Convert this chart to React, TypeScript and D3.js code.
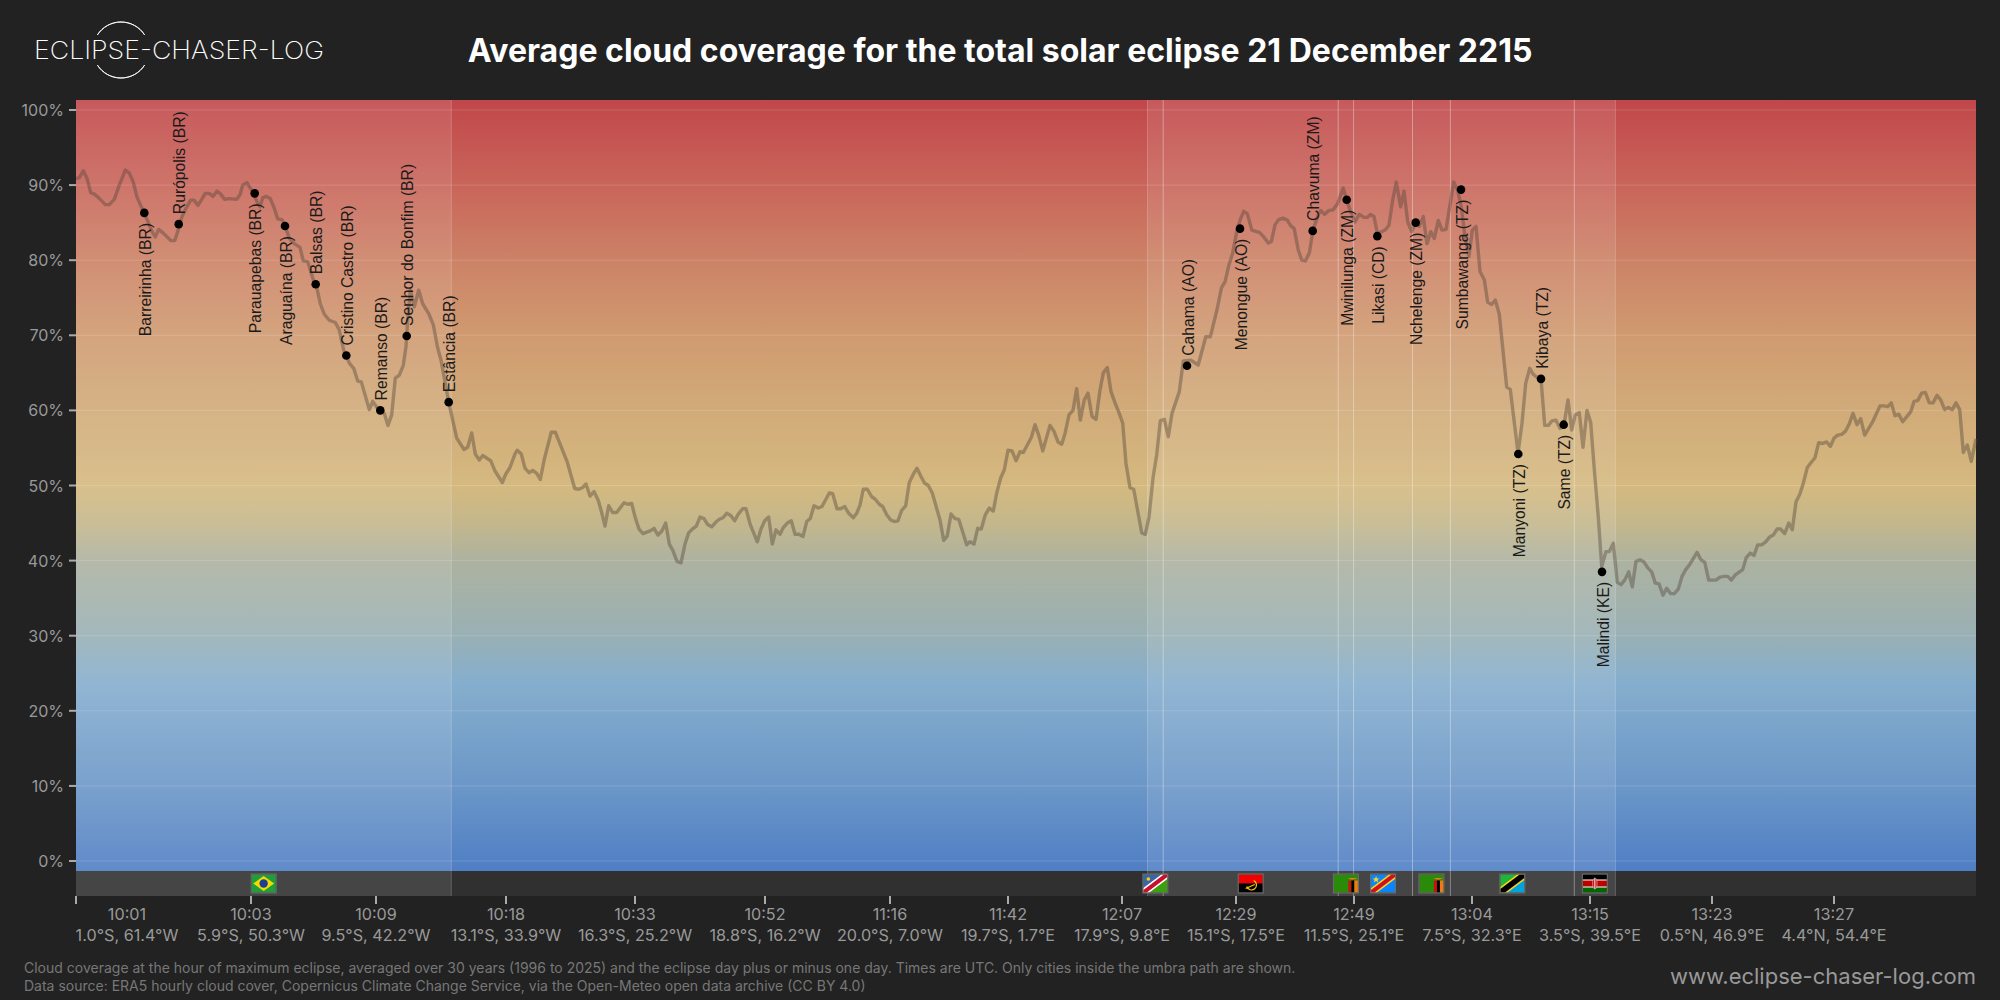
import React from 'react';
import * as d3 from 'd3';

// position along the central line (0 = left edge of the track, 1900 = right edge)
const trackPos = [
  0, 3.3, 7.3, 11, 14.7, 18.3, 22, 29.3, 33.3, 38.3, 43.3, 49.3, 53.3, 57.3, 61, 66, 68.3, 72.7, 76, 79.3,
  82.7, 87.3, 95, 98.7, 101.7, 106, 110, 114.7, 118, 122, 129.3, 133.3, 137, 141, 144.7, 148.7, 152.7, 160.7, 164, 166.7,
  171, 176.7, 181.7, 184, 186.7, 190, 194.3, 198.3, 201.7, 206, 209.3, 213.3, 218.3, 224, 227.3, 231.7, 237.3, 240, 244.3, 248.3,
  253.3, 259.3, 263.3, 267.7, 270.3, 273.3, 277.7, 281.7, 285.3, 293.3, 296.7, 304.3, 308.3, 312, 315.7, 319.3, 323.3, 327.3, 330, 331.7,
  334.3, 338.3, 342.7, 346.7, 352.7, 357.3, 361.7, 365, 372.7, 376.7, 380.7, 388, 391.7, 395.7, 399.3, 403.3, 406.7, 414.7, 418.7, 426.3,
  429.7, 434, 439, 441.3, 445.3, 449, 453, 456.7, 460.7, 464.3, 468.3, 475.3, 479.3, 491.3, 498.7, 502.7, 506.3, 510, 514, 518,
  522.3, 525.7, 529, 532.7, 536.7, 540.7, 548, 551.7, 555.7, 559.3, 563, 567, 570.7, 574.7, 578, 582, 585.7, 589.7, 593.3, 596.7,
  601, 605, 609, 612.7, 616.3, 620.3, 624, 628, 631.7, 635.7, 639.7, 643.3, 647, 650.7, 654.7, 658.7, 662.3, 666.7, 670, 674,
  681.3, 685, 688.7, 692.7, 696.3, 700, 704, 707.3, 711.3, 715.3, 719, 723, 727, 730.7, 734.3, 738, 742.3, 746, 753.3, 756.7,
  761, 764.7, 768.7, 772.7, 777.3, 780.7, 784, 787.3, 791.3, 795.7, 799, 803.3, 806.7, 810.7, 814.7, 818.3, 822, 825.7, 829.7, 833.3,
  837.3, 841, 845, 848.7, 852.3, 856.3, 864, 867.7, 871.3, 875, 879, 882.7, 890.7, 894, 898, 901.7, 905.3, 909.3, 913.3, 917.3,
  920.7, 924.7, 928.3, 932, 936, 940, 944, 947.3, 955.3, 959, 962.7, 966.7, 974, 978, 982, 985.7, 989, 993, 997, 1000.7,
  1004.3, 1008.3, 1012, 1016, 1020, 1024, 1027.3, 1031.3, 1035, 1039, 1042.7, 1046.7, 1050, 1054, 1057.7, 1065.7, 1069.3, 1073, 1077, 1080.7,
  1084.3, 1088.3, 1092.3, 1096, 1103.3, 1107.3, 1114.7, 1122.2, 1129.8, 1134.3, 1141, 1145.4, 1149, 1153, 1156.6, 1161, 1164.2, 1167.8, 1171.3, 1175.8,
  1183.4, 1187.8, 1192.3, 1195.4, 1199, 1202.6, 1207, 1211.5, 1214.6, 1218.2, 1222.2, 1225.8, 1229.4, 1233.4, 1237, 1242.7, 1245, 1248.5, 1252.6, 1257,
  1261.5, 1267.2, 1270.7, 1274, 1279, 1283.3, 1288, 1291.3, 1294.7, 1298, 1301.3, 1305.7, 1309.7, 1313, 1316.7, 1320.3, 1324.7, 1328, 1331.7, 1335.7,
  1339.7, 1343.3, 1347.3, 1351, 1354.7, 1358.3, 1362.3, 1366, 1370, 1373.7, 1377.7, 1381.7, 1385.3, 1389, 1393, 1396.3, 1400, 1404, 1408.3, 1411.7,
  1415.7, 1419.3, 1423.3, 1430.7, 1434.3, 1442, 1446, 1449.7, 1453.7, 1457.3, 1461.3, 1465, 1468.7, 1472.3, 1476, 1480, 1484, 1488, 1492, 1495.7,
  1499.3, 1503.3, 1507, 1511, 1514.7, 1518.3, 1522.3, 1525.7, 1530, 1533.3, 1537.3, 1541.3, 1545, 1548.7, 1552.7, 1556.3, 1560, 1564, 1568, 1572,
  1575.7, 1579.3, 1583, 1587, 1590.7, 1594.7, 1598.3, 1602.3, 1606, 1609.7, 1613.3, 1621, 1625, 1628.7, 1632.7, 1640, 1644, 1648, 1651.7, 1655.3,
  1659.3, 1666.7, 1670.3, 1674.3, 1678, 1681.7, 1685.7, 1689.7, 1693.3, 1697.3, 1701, 1704.7, 1708.7, 1712.7, 1716.3, 1720, 1724, 1727.3, 1731.3, 1735.3,
  1739, 1742.7, 1746.7, 1750.7, 1754.3, 1758, 1761.7, 1765.7, 1769.3, 1773.3, 1777, 1781, 1784.7, 1788.7, 1796.7, 1804, 1808, 1811.7, 1815.3, 1819,
  1822.7, 1826.7, 1834.7, 1838, 1841.7, 1845.7, 1849.3, 1853.3, 1857, 1861, 1864.7, 1868.7, 1872.3, 1876.3, 1880, 1883.7, 1887.3, 1891.3, 1895.3, 1900,
];

const cloudCover = [
  90.85, 91, 91.9, 90.9, 89, 88.8, 88.4, 87.4, 87.4, 88.1, 90, 92, 91.6, 90.4, 88.4, 86.9, 86.3, 84.9, 83.8, 83.1,
  84.1, 83.6, 82.6, 82.6, 83.8, 85.8, 86.9, 88, 88, 87.3, 88.9, 88.9, 88.5, 89.2, 88.8, 88.1, 88.2, 88.1, 88.7, 90,
  90.3, 89.1, 87.6, 87.1, 88.3, 88.5, 88.2, 86.9, 85.5, 85.4, 84.5, 82.9, 82.2, 81.7, 79.9, 79.8, 77.4, 76.8, 74.2, 72.8,
  72, 71.7, 70.7, 68, 67.3, 66.3, 65.6, 63.9, 63.8, 60.1, 61.2, 59.8, 59.6, 58, 59.4, 64.3, 64.7, 66, 68.5, 72,
  76, 73.8, 76, 74.2, 72.9, 71.4, 68.3, 66.7, 61.1, 58.7, 56.3, 54.8, 55.1, 57, 54.2, 53.4, 54, 53.3, 52, 50.4,
  51.5, 52.4, 54.2, 54.7, 54.2, 52.3, 51.7, 52, 51.6, 50.8, 53.5, 57.1, 57.1, 53.1, 49.6, 49.5, 49.7, 50.2, 48.6, 49.2,
  48, 46.4, 44.6, 47.3, 46.4, 46.4, 47.7, 47.5, 47.6, 45.7, 44.2, 43.6, 43.8, 44, 44.3, 43.4, 43.9, 45, 42.2, 41.4,
  39.9, 39.7, 42.2, 43.7, 44.2, 44.6, 45.8, 45.6, 44.8, 44.5, 45.1, 45.5, 45.7, 46.3, 46, 45.3, 46.2, 46.9, 46.9, 44.9,
  42.5, 44.2, 45.3, 45.8, 42.2, 44.1, 43.5, 44.4, 45, 45.3, 43.5, 43.5, 43.2, 45.2, 45.6, 47.3, 47, 47.2, 49, 48.9,
  46.9, 46.9, 47.2, 46.3, 45.7, 46.3, 47.4, 49.5, 49.5, 48.5, 48.2, 47.5, 47.2, 46.1, 45.4, 45.2, 45.3, 46.7, 47.3, 50.4,
  51.5, 52.3, 51.2, 50.3, 50, 49, 45.4, 42.7, 43.3, 46.2, 45.6, 45.5, 42.1, 42.5, 42.2, 44.3, 44.2, 46.1, 47, 46.6,
  49, 51, 52.1, 54.7, 54.6, 53.3, 54.5, 54.4, 56.4, 58.1, 56.7, 54.6, 58, 57.2, 55.8, 55.5, 56.9, 59.4, 60, 62.9,
  58.7, 61.4, 62.3, 59.2, 58.8, 62.7, 65, 65.7, 62.5, 61, 59.8, 58.3, 52.9, 49.7, 49.5, 43.7, 43.5, 45.8, 51, 54.1,
  58.6, 58.8, 56.5, 59.6, 62.5, 66.6, 66.7, 66.05, 69.8, 69.8, 73.4, 76.3, 77.1, 79.4, 80.9, 84, 85.4, 86.5, 86.2, 84,
  83.7, 83.1, 82.3, 82.5, 84.7, 85.4, 85.6, 85.3, 84.6, 84.2, 81.4, 80, 79.9, 81, 84, 86.2, 86.6, 86.1, 86.6, 86.7,
  87.5, 89.6, 88, 86.7, 85.1, 86.1, 85.7, 85.7, 86.1, 85.8, 83.6, 83.8, 84.1, 84.7, 88, 90.4, 87.1, 89.2, 85.1, 83.8,
  85, 84.5, 85.8, 82.2, 83.8, 82.9, 85.3, 84, 84.1, 87.1, 90.4, 89.3, 87.1, 83.1, 80.5, 84, 84.5, 78.5, 77.4, 74.4,
  74.1, 74.7, 72.8, 63.1, 62.8, 54.3, 58.3, 63.6, 65.6, 64.8, 64.4, 64.2, 58, 58, 58.6, 58.7, 57.6, 58.1, 61.4, 57.4,
  59.4, 59.7, 55.1, 60, 58.4, 52.1, 45.8, 39.2, 41.2, 41.2, 42.3, 37.1, 36.8, 37.4, 38.5, 36.5, 39.9, 40.1, 39.8, 39,
  38.5, 37, 36.9, 35.4, 36.3, 35.6, 35.6, 36.2, 37.9, 38.8, 39.4, 41.1, 40.1, 39.8, 37.4, 37.4, 37.8, 37.9, 37.9, 37.4,
  38.1, 38.8, 40.4, 41, 40.7, 42.1, 42.1, 42.5, 43.1, 43.4, 44.2, 44.2, 43.6, 45, 44.1, 47.8, 48.9, 50.3, 52.4, 53.1,
  53.7, 55.7, 55.6, 55.8, 55.2, 56.3, 56.7, 56.8, 57.2, 58.2, 59.6, 58.1, 58.9, 56.7, 58.5, 60.6, 60.6, 60.5, 61, 59.3,
  59.5, 58.5, 59.8, 61.2, 61.3, 62.3, 62.4, 61, 61, 62, 61.4, 60.1, 60.4, 60.1, 61, 60.1, 54.4, 55.4, 53.2, 56.2,
];

const cityNames = [
  'Barreirinha (BR)', 'Rurópolis (BR)', 'Parauapebas (BR)', 'Araguaína (BR)', 'Balsas (BR)',
  'Cristino Castro (BR)', 'Remanso (BR)', 'Senhor do Bonfim (BR)', 'Estância (BR)', 'Cahama (AO)',
  'Menongue (AO)', 'Chavuma (ZM)', 'Mwinilunga (ZM)', 'Likasi (CD)', 'Nchelenge (ZM)',
  'Sumbawanga (TZ)', 'Manyoni (TZ)', 'Kibaya (TZ)', 'Same (TZ)', 'Malindi (KE)',
];
const cityPos = [68.3, 102.7, 178.7, 209, 239.7, 270.3, 304.3, 330.7, 372.7, 1111, 1164, 1236.7, 1270.7, 1301.3, 1339.7, 1385, 1442.3, 1465, 1487.7, 1526];
const cityCover = [86.3, 84.8, 88.9, 84.55, 76.8, 67.3, 60, 69.9, 61.1, 65.95, 84.2, 83.9, 88.05, 83.2, 85, 89.4, 54.2, 64.2, 58.1, 38.5];
const cityAbove = [false, true, false, false, true, true, true, true, true, true, false, true, false, false, false, false, false, true, false, false];

const countryCodes = ['BR', 'NA', 'AO', 'ZM', 'CD', 'ZM', 'TZ', 'KE'];
const countryStart = [0, 1071.5, 1087.2, 1262.2, 1277.6, 1336.5, 1374.4, 1498.3];
const countryEnd = [375.3, 1087.2, 1262.2, 1277.6, 1336.5, 1374.4, 1498.3, 1539.4];

const tickPos = [0, 175, 300, 430, 559, 689, 814, 932, 1046, 1160, 1278, 1396, 1514, 1636, 1758];
const tickTimes = ['10:01', '10:03', '10:09', '10:18', '10:33', '10:52', '11:16', '11:42', '12:07', '12:29', '12:49', '13:04', '13:15', '13:23', '13:27'];
const tickCoords = [
  '1.0°S, 61.4°W', '5.9°S, 50.3°W', '9.5°S, 42.2°W', '13.1°S, 33.9°W', '16.3°S, 25.2°W',
  '18.8°S, 16.2°W', '20.0°S, 7.0°W', '19.7°S, 1.7°E', '17.9°S, 9.8°E', '15.1°S, 17.5°E',
  '11.5°S, 25.1°E', '7.5°S, 32.3°E', '3.5°S, 39.5°E', '0.5°N, 46.9°E', '4.4°N, 54.4°E',
];
const yTicks = [0, 10, 20, 30, 40, 50, 60, 70, 80, 90, 100];

const gradientValues = [101.3, 90, 80, 70, 60, 50, 45, 40, 30, 24, 10, -1.3];
const gradientColors = ['#c1474a', '#c9655a', '#cc8266', '#d09a70', '#d1ab79', '#d5b97f', '#c4b78c', '#adb2a0', '#99b0b5', '#86aecd', '#6b97c8', '#4f7ec4'];

const WIDTH = 2000;
const HEIGHT = 1000;
const SANS = 'Inter, "Noto Sans", sans-serif';

const x = d3.scaleLinear().domain([0, 1900]).range([76, 1976]);
const y = d3.scaleLinear().domain([-1.33, 101.33]).range([871, 100]);

const coverLine = d3.line<number>()
  .x((_, i) => x(trackPos[i]))
  .y(d => y(d));

function Flag({ code, cx }: { code: string; cx: number }) {
  const w = 24;
  const h = 18;
  let body: React.ReactNode = null;
  if (code === 'BR') {
    body = (
      <>
        <rect width={w} height={h} fill="#1f9e3a" />
        <path d="M12 1.5 L22.5 9 L12 16.5 L1.5 9 Z" fill="#f7d900" />
        <circle cx={12} cy={9} r={4.2} fill="#1c3f94" />
      </>
    );
  } else if (code === 'NA') {
    body = (
      <>
        <rect width={w} height={h} fill="#3d9e10" />
        <path d="M0 0 H24 L0 18 Z" fill="#3a65a8" />
        <path d="M0 18 V13.5 L18 0 H24 V4.5 L6 18 Z" fill="#fff" />
        <path d="M0 18 V15.5 L20.5 0 H24 V2.5 L3.5 18 Z" fill="#c8102e" />
        <circle cx={5} cy={4.5} r={1.8} fill="#ffce00" />
      </>
    );
  } else if (code === 'AO') {
    body = (
      <>
        <rect width={w} height={9} fill="#f00000" />
        <rect y={9} width={w} height={9} fill="#000" />
        <path d="M8 12 A5 5 0 1 0 15 6" fill="none" stroke="#ffcb00" strokeWidth={1.2} />
        <path d="M7 14 L16 10" stroke="#ffcb00" strokeWidth={1.2} />
      </>
    );
  } else if (code === 'ZM') {
    body = (
      <>
        <rect width={w} height={h} fill="#2a8a0a" />
        <rect x={14.5} y={6} width={3} height={12} fill="#d01010" />
        <rect x={17.5} y={6} width={3} height={12} fill="#000" />
        <rect x={20.5} y={6} width={3.5} height={12} fill="#f07a10" />
        <path d="M14 3.5 H24 L20 5 H17 Z" fill="#f07a10" />
      </>
    );
  } else if (code === 'CD') {
    body = (
      <>
        <rect width={w} height={h} fill="#0a85ff" />
        <path d="M0 18 V13.5 L18 0 H24 V4.5 L6 18 Z" fill="#f7d618" />
        <path d="M0 18 V15.5 L20.5 0 H24 V2.5 L3.5 18 Z" fill="#ce1021" />
        <path d="M5 1.5 L6 4 L8.6 4 L6.5 5.6 L7.3 8 L5 6.6 L2.7 8 L3.5 5.6 L1.4 4 L4 4 Z" fill="#f7d618" />
      </>
    );
  } else if (code === 'TZ') {
    body = (
      <>
        <path d="M0 0 H24 L0 18 Z" fill="#1eb53a" />
        <path d="M24 18 H0 L24 0 Z" fill="#00a3dd" />
        <path d="M0 18 V12.5 L16.7 0 H24 V5.5 L7.3 18 Z" fill="#fcd116" />
        <path d="M0 18 V14.5 L19.3 0 H24 V3.5 L4.7 18 Z" fill="#000" />
      </>
    );
  } else if (code === 'KE') {
    body = (
      <>
        <rect width={w} height={5.4} fill="#000" />
        <rect y={5.4} width={w} height={7.2} fill="#bb0000" />
        <rect y={12.6} width={w} height={5.4} fill="#006600" />
        <rect y={5} width={w} height={1} fill="#fff" />
        <rect y={12} width={w} height={1} fill="#fff" />
        <ellipse cx={12} cy={9} rx={2.2} ry={5.5} fill="#bb0000" stroke="#fff" strokeWidth={0.5} />
        <rect x={11.5} y={4} width={1} height={10} fill="#fff" />
      </>
    );
  }
  return (
    <g transform={`translate(${cx - w / 2},874.5)`}>
      {body}
      <rect x={-0.5} y={-0.5} width={w + 1} height={h + 1} fill="none" stroke="#6e6e6e" strokeWidth={1} />
    </g>
  );
}

function Logo() {
  const arc = d3.arc();
  const top = arc({ innerRadius: 28, outerRadius: 28, startAngle: -1.0, endAngle: 1.0 }) as string;
  const bottom = arc({ innerRadius: 28, outerRadius: 28, startAngle: Math.PI - 1.0, endAngle: Math.PI + 1.0 }) as string;
  return (
    <g>
      <path d={top} transform="translate(121,50)" fill="none" stroke="#fff" strokeWidth={0.9} />
      <path d={bottom} transform="translate(121,50)" fill="none" stroke="#fff" strokeWidth={0.9} />
      <text x={34} y={59} fill="#fff" fontFamily={SANS} fontWeight={200} fontSize={25} textLength={290} lengthAdjust="spacingAndGlyphs">
        ECLIPSE-CHASER-LOG
      </text>
    </g>
  );
}

export default function App() {
  return (
    <svg
      width={WIDTH}
      height={HEIGHT}
      viewBox={`0 0 ${WIDTH} ${HEIGHT}`}
      style={{ position: 'absolute', left: 0, top: 0, display: 'block', background: '#222222' }}
    >
      <defs>
        <linearGradient id="coverGradient" gradientUnits="userSpaceOnUse" x1={0} x2={0} y1={y(101.3)} y2={y(-1.3)}>
          {gradientValues.map((v, i) => (
            <stop key={v} offset={(v - 101.3) / (-1.3 - 101.3)} stopColor={gradientColors[i]} />
          ))}
        </linearGradient>
      </defs>

      <Logo />
      <text x={1000} y={62} textAnchor="middle" fill="#fff" fontFamily={SANS} fontWeight={700} fontSize={32}>
        Average cloud coverage for the total solar eclipse 21 December 2215
      </text>

      <rect x={x(0)} y={y.range()[1]} width={x(1900) - x(0)} height={y.range()[0] - y.range()[1]} fill="url(#coverGradient)" />
      <rect x={x(0)} y={871} width={x(1900) - x(0)} height={25} fill="#303030" />

      {yTicks.map(t => (
        <line key={t} x1={x(0)} x2={x(1900)} y1={y(t)} y2={y(t)} stroke="#fff" strokeOpacity={0.15} strokeWidth={1} />
      ))}

      {countryCodes.map((c, i) => (
        <rect key={i} x={x(countryStart[i])} y={100} width={x(countryEnd[i]) - x(countryStart[i])} height={796} fill="#fff" fillOpacity={0.1} />
      ))}
      {countryCodes.map((c, i) => (
        <g key={i} stroke="#fff" strokeOpacity={0.2} strokeWidth={1}>
          {i > 0 && <line x1={x(countryStart[i])} x2={x(countryStart[i])} y1={100} y2={896} />}
          <line x1={x(countryEnd[i])} x2={x(countryEnd[i])} y1={100} y2={896} />
        </g>
      ))}

      <path d={coverLine(cloudCover) as string} fill="none" stroke="#54463a" strokeOpacity={0.42} strokeWidth={3.4} strokeLinejoin="round" />

      {cityNames.map((name, i) => {
        const cx = x(cityPos[i]);
        const cy = y(cityCover[i]);
        const ly = cityAbove[i] ? cy - 10 : cy + 10;
        return (
          <g key={name}>
            <circle cx={cx} cy={cy} r={4.3} fill="#000" />
            <text
              transform={`translate(${cx + 1},${ly}) rotate(-90)`}
              textAnchor={cityAbove[i] ? 'start' : 'end'}
              dominantBaseline="central"
              fill="#1a1a1a"
              fontFamily='"Liberation Sans", Arial, sans-serif'
              fontSize={15.7}
            >
              {name}
            </text>
          </g>
        );
      })}

      {countryCodes.map((c, i) => (
        <Flag key={i} code={c} cx={x((countryStart[i] + countryEnd[i]) / 2)} />
      ))}

      {yTicks.map(t => (
        <g key={t}>
          <line x1={69} x2={76} y1={y(t)} y2={y(t)} stroke="#aaa" strokeWidth={2} />
          <text x={64} y={y(t)} textAnchor="end" dominantBaseline="central" fill="#999" fontFamily={SANS} fontSize={16}>
            {t}%
          </text>
        </g>
      ))}

      {tickPos.map((t, i) => {
        const labelX = Math.max(x(t), x(0) + 51);
        return (
          <g key={t} fontFamily={SANS} fill="#999" textAnchor="middle">
            <line x1={x(t)} x2={x(t)} y1={896} y2={904} stroke="#aaa" strokeWidth={2} />
            <text x={labelX} y={914} dominantBaseline="central" fontSize={16.2}>{tickTimes[i]}</text>
            <text x={labelX} y={935} dominantBaseline="central" fontSize={16.2}>{tickCoords[i]}</text>
          </g>
        );
      })}

      <g fontFamily={SANS} fill="#777" fontSize={14}>
        <text x={24} y={967} dominantBaseline="central">
          Cloud coverage at the hour of maximum eclipse, averaged over 30 years (1996 to 2025) and the eclipse day plus or minus one day. Times are UTC. Only cities inside the umbra path are shown.
        </text>
        <text x={24} y={985} dominantBaseline="central">
          Data source: ERA5 hourly cloud cover, Copernicus Climate Change Service, via the Open-Meteo open data archive (CC BY 4.0)
        </text>
      </g>
      <text x={1976} y={976} textAnchor="end" dominantBaseline="central" fill="#999" fontFamily={SANS} fontSize={22}>
        www.eclipse-chaser-log.com
      </text>
    </svg>
  );
}
